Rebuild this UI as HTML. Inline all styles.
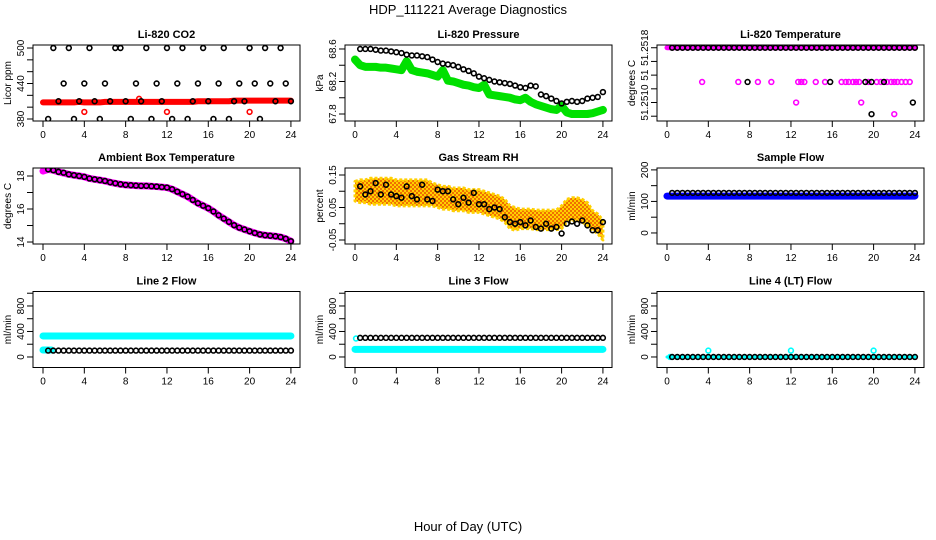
<!DOCTYPE html>
<html><head><meta charset="utf-8"><style>
body{margin:0;background:#fff}
svg{display:block;font-family:"Liberation Sans",sans-serif}
</style></head><body>
<svg id="chart" width="936" height="540" viewBox="0 0 936 540" xmlns="http://www.w3.org/2000/svg">
<defs>
<pattern id="rhpat" width="4" height="4" patternUnits="userSpaceOnUse">
<rect width="4" height="4" fill="#ffd000"/>
<rect width="2" height="2" fill="#f07000"/>
<rect x="2" y="2" width="2" height="2" fill="#f07000"/>
</pattern>
</defs>
<text x="468" y="14" font-size="13" text-anchor="middle">HDP_111221  Average Diagnostics</text>
<text x="468" y="531" font-size="13" text-anchor="middle">Hour of Day (UTC)</text>
</svg>
<script>
// shared time categories
const tPts = [0.5,1,1.5,2,2.5,3,3.5,4,4.5,5,5.5,6,6.5,7,7.5,8,8.5,9,9.5,10,10.5,11,11.5,12,12.5,13,13.5,14,14.5,15,15.5,16,16.5,17,17.5,18,18.5,19,19.5,20,20.5,21,21.5,22,22.5,23,23.5,24];
const tDense = [0,0.5,1,1.5,2,2.5,3,3.5,4,4.5,5,5.5,6,6.5,7,7.5,8,8.5,9,9.5,10,10.5,11,11.5,12,12.5,13,13.5,14,14.5,15,15.5,16,16.5,17,17.5,18,18.5,19,19.5,20,20.5,21,21.5,22,22.5,23,23.5,24];
const xTicks = [0,4,8,12,16,20,24];

// CO2
const co2Black = [380,500,410,440,500,380,410,440,500,410,380,440,410,500,500,410,380,440,410,500,380,440,410,500,380,440,500,380,410,440,500,410,380,440,500,380,410,440,410,500,440,380,500,440,410,500,440,410];
const co2Red = [408,408,408,408,408,408,408,409,408,408,408,408,409,409,409,409,409,409,409,409,409,409,409,409,409,409,409,409,409,409,410,410,410,410,410,410,410,411,411,411,411,411,411,411,411,411,411,411,411];
const co2RedOutT = [4,9.3,12,20];
const co2RedOutV = [392,414,392,392];
// Pressure
const presBlack = [68.6,68.6,68.6,68.59,68.58,68.58,68.57,68.56,68.55,68.53,68.52,68.52,68.51,68.5,68.47,68.44,68.42,68.41,68.4,68.38,68.35,68.33,68.3,68.26,68.24,68.22,68.2,68.19,68.18,68.17,68.15,68.13,68.12,68.15,68.14,68.04,68.02,67.99,67.96,67.93,67.95,67.96,67.95,67.96,67.99,68.0,68.01,68.07];
const presGreen = [68.47,68.4,68.38,68.38,68.38,68.37,68.37,68.36,68.35,68.34,68.45,68.34,68.32,68.31,68.3,68.28,68.26,68.34,68.21,68.2,68.18,68.16,68.15,68.13,68.12,68.16,68.04,68.03,68.02,68.01,68.0,67.98,67.97,68.0,67.95,67.92,67.9,67.88,67.86,67.85,67.9,67.82,67.8,67.8,67.8,67.8,67.81,67.83,67.85];
// Temperature
const tempBlackTopT = tPts;
const tempBlackTop = tPts.map(()=>51.2518);
const tempBlackOutT = [7.8,15.8,19.2,19.8,21,19.8,23.8];
const tempBlackOutV = [51.2513,51.2513,51.2513,51.2513,51.2513,51.25083,51.2510];
const tempPinkOutT = [3.4,6.9,8.8,10.1,12.7,13,13.3,14.4,15.3,16.9,17.3,17.6,18,18.3,18.6,19.5,20.3,20.7,21.3,21.7,22,22.3,22.7,23.1,23.5,12.5,18.8,22];
const tempPinkOutV = [51.2513,51.2513,51.2513,51.2513,51.2513,51.2513,51.2513,51.2513,51.2513,51.2513,51.2513,51.2513,51.2513,51.2513,51.2513,51.2513,51.2513,51.2513,51.2513,51.2513,51.2513,51.2513,51.2513,51.2513,51.2513,51.2510,51.2510,51.25083];
const tempPinkTop = tDense.map(()=>51.2518);
// Ambient
const ambBlack = [18.4,18.35,18.25,18.2,18.1,18.05,18.0,17.95,17.85,17.8,17.75,17.7,17.62,17.56,17.5,17.46,17.44,17.42,17.4,17.4,17.38,17.36,17.33,17.3,17.2,17.05,16.9,16.75,16.55,16.35,16.2,16.05,15.85,15.62,15.42,15.22,15.02,14.87,14.76,14.65,14.55,14.46,14.41,14.38,14.35,14.3,14.2,14.05];
const ambPink = [18.3,18.4,18.35,18.25,18.18,18.1,18.05,18.0,17.95,17.85,17.8,17.75,17.7,17.62,17.56,17.5,17.46,17.44,17.42,17.4,17.4,17.38,17.36,17.33,17.3,17.2,17.05,16.9,16.75,16.55,16.35,16.2,16.05,15.85,15.62,15.42,15.22,15.02,14.87,14.76,14.65,14.55,14.46,14.41,14.38,14.35,14.3,14.2,14.05];
// RH
const rhBlack = [0.115,0.09,0.10,0.125,0.09,0.12,0.09,0.085,0.08,0.115,0.085,0.075,0.12,0.075,0.07,0.105,0.1,0.1,0.075,0.06,0.08,0.065,0.095,0.06,0.06,0.045,0.05,0.045,0.02,0.005,0.0,0.005,-0.005,0.01,-0.01,-0.015,0.0,-0.015,-0.01,-0.03,0.0,0.007,0.0,0.01,-0.005,-0.02,-0.02,0.005];
const rhMid = [0.10,0.10,0.10,0.10,0.10,0.10,0.10,0.10,0.095,0.095,0.095,0.095,0.095,0.095,0.095,0.09,0.085,0.08,0.08,0.075,0.075,0.075,0.07,0.07,0.07,0.065,0.06,0.055,0.05,0.04,0.02,0.015,0.015,0.015,0.015,0.012,0.012,0.012,0.012,0.012,0.02,0.04,0.045,0.045,0.04,0.03,0.01,0.0,-0.02];
const rhSpread = [0.03,0.035,0.035,0.04,0.04,0.04,0.04,0.04,0.04,0.04,0.04,0.04,0.04,0.04,0.04,0.035,0.035,0.035,0.035,0.035,0.035,0.035,0.035,0.035,0.035,0.035,0.035,0.035,0.035,0.035,0.035,0.035,0.03,0.03,0.03,0.03,0.03,0.03,0.03,0.03,0.035,0.035,0.035,0.035,0.035,0.035,0.03,0.03,0.03];
// Flows
const sampBlack = tPts.map(()=>127);
const sampBlue = tDense.map(()=>117);
const l2Black = tPts.map(()=>100);
const l2Cyan = tDense.map(()=>330);
const l3Black = tPts.map(()=>300);
const l3Cyan = tDense.map(()=>120);
const l4Black = tPts.map(()=>0);
const l4Cyan = tDense.map(()=>0);
const l4CyanOutT = [0.3,4,12,20];
const l4CyanOutV = [0,100,100,100];

const svg = document.getElementById('chart');
const NS = 'http://www.w3.org/2000/svg';
function mk(tag, attrs, parent){const e=document.createElementNS(NS,tag);for(const k in attrs)e.setAttribute(k,attrs[k]);(parent||svg).appendChild(e);return e;}

function panel(cfg){
  const L = 33 + 312*cfg.col, T = [45,168,291.5][cfg.row], W = 267, H = 76;
  const g = mk('g',{});
  
  
  const x = h => L + 10 + h*10.33;
  const y = v => T + H - (v - cfg.ymin)/(cfg.ymax - cfg.ymin)*H;
  const tt = mk('text',{x:L+W/2,y:T-7,'font-size':11,'font-weight':'bold','text-anchor':'middle'},g);
  tt.textContent = cfg.title;
  
  
  const yl = mk('text',{x:0,y:0,'font-size':10,'text-anchor':'middle',transform:`translate(${L-22},${T+H/2}) rotate(-90)`},g);
  yl.textContent = cfg.ylab;
  
  
  const cid = 'c'+cfg.row+cfg.col;
  const cp = mk('clipPath',{id:cid},g); mk('rect',{x:L,y:T,width:W,height:H},cp);
  const d = mk('g',{'clip-path':`url(#${cid})`},g);
  cfg.draw(d, x, y);
  const box = mk('rect',{x:L,y:T,width:W,height:H,fill:'none',stroke:'#000','stroke-width':1},g);
  
  
  xTicks.forEach(h=>{
    mk('line',{x1:x(h),x2:x(h),y1:T+H,y2:T+H+6,stroke:'#000'},g);
    const t = mk('text',{x:x(h),y:T+H+17,'font-size':10,'text-anchor':'middle'},g);
    t.textContent = h;
    
    
  });
  cfg.yticks.forEach((v,i)=>{
    mk('line',{x1:L,x2:L-6,y1:y(v),y2:y(v),stroke:'#000'},g);
    const lab = cfg.ylabels[i];
    if(lab){
      const t = mk('text',{x:0,y:0,'font-size':10,'text-anchor':'middle',transform:`translate(${L-9},${y(v)}) rotate(-90)`},g);
      t.textContent = lab;
      
      
    }
  });
}
function pts(parent, ts, vs, x, y, color, name){
  ts.forEach((t,i)=>{
    const c = mk('circle',{cx:x(t),cy:y(vs[i]),r:2.4,fill:'none',stroke:color,'stroke-width':1.6},parent);
    
    
  });
}
function band(parent, ts, vs, x, y, color, w, name){
  const p = mk('polyline',{points:ts.map((t,i)=>x(t)+','+y(vs[i])).join(' '),fill:'none',stroke:color,'stroke-width':w,'stroke-linejoin':'round','stroke-linecap':'round'},parent);
  
  
}

panel({name:'co2-panel',title:'Li-820 CO2',ylab:'Licor ppm',row:0,col:0,ymin:376.6,ymax:505.1,
  yticks:[380,400,420,440,460,480,500],ylabels:['380','','','440','','','500'],
  draw:(d,x,y)=>{band(d,tDense,co2Red,x,y,'#f00',6,'co2-red-series');pts(d,co2RedOutT,co2RedOutV,x,y,'#f00','co2-red-point');pts(d,tPts,co2Black,x,y,'#000','co2-point');}});
panel({name:'pressure-panel',title:'Li-820 Pressure',ylab:'kPa',row:0,col:1,ymin:67.714,ymax:68.649,
  yticks:[67.8,68.0,68.2,68.4,68.6],ylabels:['67.8','','68.2','','68.6'],
  draw:(d,x,y)=>{band(d,tDense,presGreen,x,y,'#00e000',8,'pressure-green-series');pts(d,tPts,presBlack,x,y,'#000','pressure-point');}});
panel({name:'temperature-panel',title:'Li-820 Temperature',ylab:'degrees C',row:0,col:2,ymin:51.25073,ymax:51.25184,
  yticks:[51.2508,51.2510,51.2512,51.2514,51.2516,51.2518],ylabels:['','51.2510','','51','','51.2518'],
  draw:(d,x,y)=>{band(d,tDense,tempPinkTop,x,y,'#f0f',5,'temperature-pink-series');pts(d,tempPinkOutT,tempPinkOutV,x,y,'#f0f','temperature-pink-point');pts(d,tempBlackTopT,tempBlackTop,x,y,'#000','temperature-point');pts(d,tempBlackOutT,tempBlackOutV,x,y,'#000','temperature-point');}});
panel({name:'ambient-panel',title:'Ambient Box Temperature',ylab:'degrees C',row:1,col:0,ymin:13.88,ymax:18.485,
  yticks:[14,15,16,17,18],ylabels:['14','','16','','18'],
  draw:(d,x,y)=>{band(d,tDense,ambPink,x,y,'#f0f',7,'ambient-pink-series');pts(d,tPts,ambBlack,x,y,'#000','ambient-point');}});
panel({name:'rh-panel',title:'Gas Stream RH',ylab:'percent',row:1,col:1,ymin:-0.0623,ymax:0.1715,
  yticks:[-0.05,0,0.05,0.10,0.15],ylabels:['-0.05','','0.05','','0.15'],
  draw:(d,x,y)=>{
    const up = tDense.map((t,i)=>x(t)+','+y(rhMid[i]+rhSpread[i]));
    const lo = tDense.map((t,i)=>x(t)+','+y(rhMid[i]-rhSpread[i])).reverse();
    const p = mk('polygon',{points:up.concat(lo).join(' '),fill:'url(#rhpat)',stroke:'#ffd000','stroke-width':3,'stroke-dasharray':'3 2','stroke-linejoin':'round'},d);
    
    
    pts(d,tPts,rhBlack,x,y,'#000','rh-point');}});
panel({name:'sample-flow-panel',title:'Sample Flow',ylab:'ml/min',row:1,col:2,ymin:-35,ymax:206,
  yticks:[0,50,100,150,200],ylabels:['0','','100','','200'],
  draw:(d,x,y)=>{band(d,tDense,sampBlue,x,y,'#0000ff',7,'sample-blue-series');pts(d,tPts,sampBlack,x,y,'#000','sample-point');}});
const flowTicks=[0,200,400,600,800,1000], flowLabels=['0','','400','','800',''];
panel({name:'line2-panel',title:'Line 2 Flow',ylab:'ml/min',row:2,col:0,ymin:-165,ymax:1027,yticks:flowTicks,ylabels:flowLabels,
  draw:(d,x,y)=>{band(d,tDense,l2Cyan,x,y,'#00ffff',7,'line2-cyan-series');band(d,[0,0.8],[110,110],x,y,'#00ffff',7,'line2-cyan-start');pts(d,tPts,l2Black,x,y,'#000','line2-point');}});
panel({name:'line3-panel',title:'Line 3 Flow',ylab:'ml/min',row:2,col:1,ymin:-165,ymax:1027,yticks:flowTicks,ylabels:flowLabels,
  draw:(d,x,y)=>{band(d,tDense,l3Cyan,x,y,'#00ffff',7,'line3-cyan-series');pts(d,[0.1],[290],x,y,'#00ffff','line3-cyan-point');pts(d,tPts,l3Black,x,y,'#000','line3-point');}});
panel({name:'line4-panel',title:'Line 4 (LT) Flow',ylab:'ml/min',row:2,col:2,ymin:-165,ymax:1027,yticks:flowTicks,ylabels:flowLabels,
  draw:(d,x,y)=>{band(d,tDense,l4Cyan,x,y,'#00ffff',3,'line4-cyan-series');pts(d,l4CyanOutT,l4CyanOutV,x,y,'#00ffff','line4-cyan-point');pts(d,tPts,l4Black,x,y,'#000','line4-point');}});
</script>
</body></html>
